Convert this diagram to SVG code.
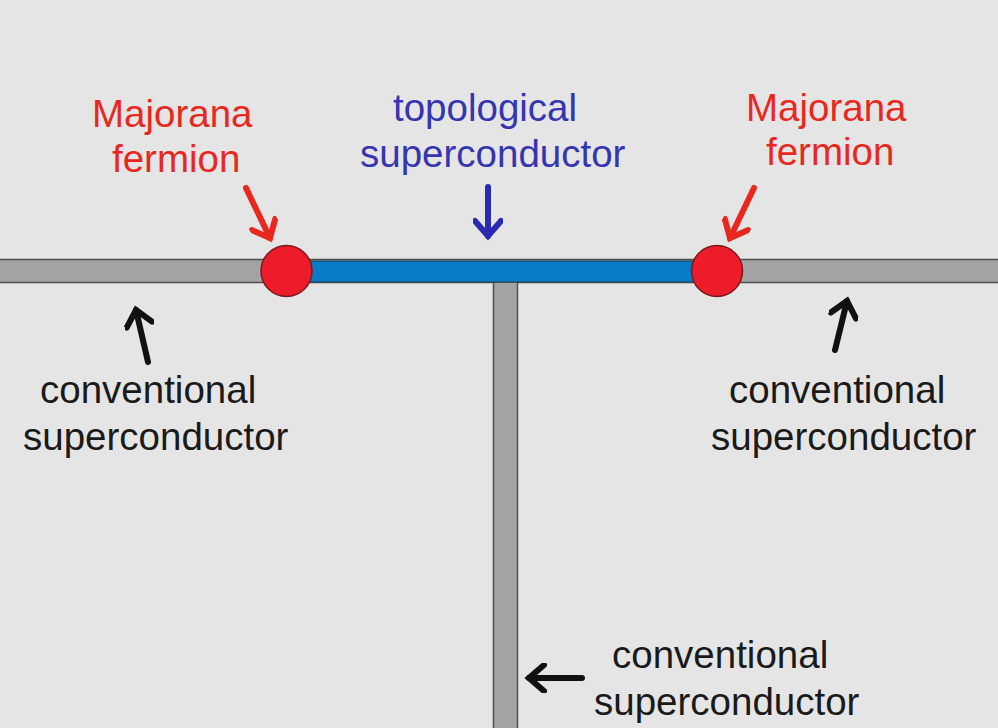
<svg xmlns="http://www.w3.org/2000/svg" width="998" height="728" viewBox="0 0 998 728">
<defs>
<style>
.t{font-family:"Liberation Sans",Arial,sans-serif;font-size:38.5px}
.red{fill:#e8281e}
.blue{fill:#3535b0}
.blk{fill:#1a1a1a}
.ar{fill:none;stroke-width:6;stroke-linecap:round;stroke-linejoin:round}
</style>
<marker id="hr" viewBox="0 0 30 30" refX="24" refY="15" markerWidth="30" markerHeight="30" markerUnits="userSpaceOnUse" orient="auto"><path d="M9,2 L24,15 L9,28" fill="none" stroke="#e8281e" stroke-width="6" stroke-linecap="round" stroke-linejoin="miter"/></marker>
<marker id="hb" viewBox="0 0 30 30" refX="24" refY="15" markerWidth="30" markerHeight="30" markerUnits="userSpaceOnUse" orient="auto"><path d="M9,2 L24,15 L9,28" fill="none" stroke="#2a2ab0" stroke-width="6" stroke-linecap="round" stroke-linejoin="miter"/></marker>
<marker id="hk" viewBox="0 0 30 30" refX="24" refY="15" markerWidth="30" markerHeight="30" markerUnits="userSpaceOnUse" orient="auto"><path d="M9,2 L24,15 L9,28" fill="none" stroke="#111" stroke-width="6" stroke-linecap="round" stroke-linejoin="miter"/></marker>
</defs>
<rect width="998" height="728" fill="#e5e5e5"/>
<g id="wire-left-right">
<rect x="-2" y="259.5" width="1002" height="23" fill="#a3a3a3" stroke="#505050" stroke-width="1.5"/>
</g>
<g id="wire-vertical">
<rect x="493.5" y="282" width="24" height="450" fill="#a3a3a3" stroke="#505050" stroke-width="1.5"/>
</g>
<g id="topological-wire">
<rect x="296" y="261" width="414" height="21" fill="#0a7bc8" stroke="#1b3c5c" stroke-width="1"/>
</g>
<g id="majorana-left">
<circle cx="286.5" cy="271" r="25.5" fill="#ee1c2a" stroke="#7a1a1a" stroke-width="1.5"/>
</g>
<g id="majorana-right">
<circle cx="717" cy="271" r="25.5" fill="#ee1c2a" stroke="#7a1a1a" stroke-width="1.5"/>
</g>
<g id="connectors">
<path class="ar" stroke="#e8281e" d="M246,188 L270,238" marker-end="url(#hr)"/>
<path class="ar" stroke="#e8281e" d="M754,188 L730,238" marker-end="url(#hr)"/>
<path class="ar" stroke="#2a2ab0" d="M488,187 L488,236" marker-end="url(#hb)"/>
<path class="ar" stroke="#111" d="M148,362 L136,310" marker-end="url(#hk)"/>
<path class="ar" stroke="#111" d="M835,350 L847,301" marker-end="url(#hk)"/>
<path class="ar" stroke="#111" d="M582,678 L529,678" marker-end="url(#hk)"/>
</g>
<g id="label-majorana-left">
<text class="t red" x="92" y="127">Majorana</text>
<text class="t red" x="112" y="172">fermion</text>
</g>
<g id="label-topological">
<text class="t blue" x="393" y="121">topological</text>
<text class="t blue" x="360" y="167">superconductor</text>
</g>
<g id="label-majorana-right">
<text class="t red" x="746" y="121">Majorana</text>
<text class="t red" x="766" y="165">fermion</text>
</g>
<g id="label-conv-left">
<text class="t blk" x="40" y="403">conventional</text>
<text class="t blk" x="23" y="450">superconductor</text>
</g>
<g id="label-conv-right">
<text class="t blk" x="729" y="403">conventional</text>
<text class="t blk" x="711" y="450">superconductor</text>
</g>
<g id="label-conv-bottom">
<text class="t blk" x="612" y="668">conventional</text>
<text class="t blk" x="594" y="715">superconductor</text>
</g>
</svg>
